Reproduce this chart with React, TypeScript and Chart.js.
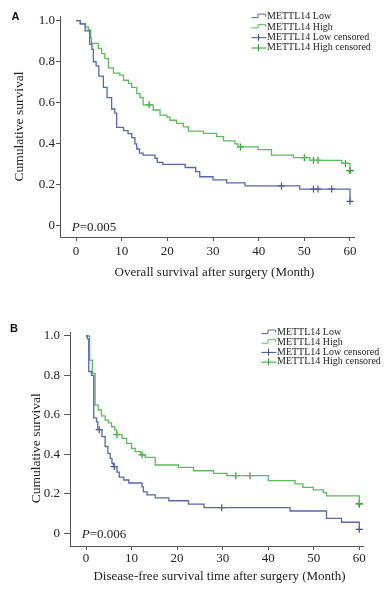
import React, { useEffect, useRef } from 'react';
import { Chart, registerables } from 'chart.js';

Chart.register(...registerables);

// ---------- data ----------
const X_TICKS = [0, 10, 20, 30, 40, 50, 60];
const Y_TICKS = [0, 0.2, 0.4, 0.6, 0.8, 1.0];
const LEGEND_LABELS = ['METTL14 Low', 'METTL14 High', 'METTL14 Low censored', 'METTL14 High censored'];

// Panel A: overall survival
const OS_LOW_T = [0, 0.9, 2, 3, 3.5, 3.8, 4.4, 5, 6, 6.8, 7.8, 8.5, 8.9, 10.4, 11.4, 12.2, 12.9, 13.3, 13.9, 14.7, 17.3, 17.8, 19, 23.9, 26.2, 27.1, 30, 33, 37, 49, 60];
const OS_LOW_S = [1, 0.985, 0.95, 0.885, 0.86, 0.8, 0.78, 0.73, 0.675, 0.625, 0.57, 0.55, 0.48, 0.465, 0.45, 0.43, 0.4, 0.375, 0.355, 0.345, 0.33, 0.31, 0.3, 0.285, 0.265, 0.24, 0.225, 0.21, 0.195, 0.18, 0.12];
const OS_LOW_CENS_T = [45, 52, 53, 56, 60];
const OS_LOW_CENS_S = [0.195, 0.18, 0.18, 0.18, 0.12];

const OS_HIGH_T = [0, 1, 2.1, 2.7, 3.2, 3.4, 4.9, 5.6, 6.3, 7.1, 8.2, 9.6, 10.4, 11.5, 12.2, 13.3, 14, 14.7, 16.9, 18.4, 19.9, 20.6, 22, 23.5, 24.6, 27.9, 30.8, 32.3, 34.8, 35.5, 39.9, 42.8, 47.6, 51.2, 58.2, 60];
const OS_HIGH_S = [1, 0.985, 0.97, 0.955, 0.915, 0.89, 0.865, 0.84, 0.815, 0.77, 0.745, 0.735, 0.71, 0.695, 0.675, 0.645, 0.625, 0.59, 0.565, 0.54, 0.53, 0.515, 0.5, 0.483, 0.462, 0.451, 0.435, 0.415, 0.4, 0.385, 0.372, 0.345, 0.333, 0.32, 0.305, 0.27];
const OS_HIGH_CENS_T = [16, 36, 50, 52, 53, 59, 60, 60];
const OS_HIGH_CENS_S = [0.59, 0.385, 0.333, 0.32, 0.32, 0.305, 0.27, 0.27];

// Panel B: disease-free survival
const DFS_LOW_T = [0, 0.3, 0.6, 1.2, 1.7, 2.3, 2.6, 3.5, 4.2, 4.8, 5.3, 5.7, 6.0, 6.8, 7.3, 8.3, 9.4, 12.3, 12.6, 13.4, 15.2, 18.2, 22.5, 25.9, 44.8, 52.8, 56.1, 60];
const DFS_LOW_S = [1, 0.985, 0.82, 0.8, 0.585, 0.565, 0.525, 0.49, 0.44, 0.405, 0.38, 0.355, 0.338, 0.31, 0.285, 0.27, 0.255, 0.235, 0.21, 0.195, 0.18, 0.165, 0.148, 0.13, 0.113, 0.076, 0.056, 0.02];
const DFS_LOW_CENS_T = [2.9, 6.2, 29.8, 60];
const DFS_LOW_CENS_S = [0.525, 0.338, 0.13, 0.02];

const DFS_HIGH_T = [0, 0.8, 1.4, 2.0, 2.7, 3.4, 4.2, 4.9, 5.6, 6.3, 6.7, 7.9, 8.9, 10.0, 10.8, 12.0, 13.0, 15.2, 20.3, 23.6, 28.0, 30.9, 40.0, 45.9, 47.6, 49.9, 52.1, 52.8, 60];
const DFS_HIGH_S = [1, 0.878, 0.81, 0.65, 0.625, 0.595, 0.574, 0.56, 0.54, 0.524, 0.5, 0.481, 0.456, 0.43, 0.414, 0.397, 0.385, 0.346, 0.334, 0.317, 0.304, 0.292, 0.267, 0.25, 0.233, 0.22, 0.206, 0.19, 0.149];
const DFS_HIGH_CENS_T = [6.8, 12.3, 32.9, 36, 60, 60];
const DFS_HIGH_CENS_S = [0.5, 0.397, 0.292, 0.292, 0.149, 0.149];

// ---------- styles ----------
const BLUE = '#5866aa';
const BLUE_MARK = '#3f4d99';
const GREEN = '#5dbb5d';
const GREEN_MARK = '#2f9f2f';
const AXIS = '#555555';
const TEXT = '#222222';
const SERIF = "'Liberation Serif', 'Times New Roman', serif";
const SANS = "'Liberation Sans', Arial, sans-serif";

const pts = (t: number[], s: number[]) => t.map((x, i) => ({ x, y: s[i] }));

type PanelCfg = {
  letter: string;
  pValue: string;
  xTitle: string;
  yTitle: string;
  height: number;
  padTop: number;
  padRight: number;
  yWidth: number;
  xHeight: number;
  xMin: number;
  xMax: number;
  yMin: number;
  yMax: number;
  yTickLen: number;
  yTickPad: number;
  xTickPad: number;
  letterPos: [number, number];
  pPos: [number, number];
  xTitlePos: [number, number];
  yTitlePos: [number, number];
  legend: { x: number; y: number; dy: number };
  lowT: number[]; lowS: number[]; lowCT: number[]; lowCS: number[];
  highT: number[]; highS: number[]; highCT: number[]; highCS: number[];
};

const PANEL_A: PanelCfg = {
  letter: 'A', pValue: '=0.005',
  xTitle: 'Overall survival after surgery (Month)', yTitle: 'Cumulative survival',
  height: 295, padTop: 16, padRight: 38, yWidth: 60, xHeight: 58,
  xMin: -3.504, xMax: 60.876, yMin: -0.0536, yMax: 1.0229,
  yTickLen: 4, yTickPad: 1, xTickPad: 3,
  letterPos: [11.5, 16.7], pPos: [71.7, 227.7], xTitlePos: [214.5, 273], yTitlePos: [19, 126.5],
  legend: { x: 267, y: 16.8, dy: 10.3 },
  lowT: OS_LOW_T, lowS: OS_LOW_S, lowCT: OS_LOW_CENS_T, lowCS: OS_LOW_CENS_S,
  highT: OS_HIGH_T, highS: OS_HIGH_S, highCT: OS_HIGH_CENS_T, highCS: OS_HIGH_CENS_S,
};

const PANEL_B: PanelCfg = {
  letter: 'B', pValue: '=0.006',
  xTitle: 'Disease-free survival time after surgery (Month)', yTitle: 'Cumulative survival',
  height: 296, padTop: 37, padRight: 29, yWidth: 70, xHeight: 45,
  xMin: -3.513, xMax: 60.81, yMin: -0.0644, yMax: 1.0202,
  yTickLen: 6, yTickPad: 4, xTickPad: 1,
  letterPos: [10, 33.7], pPos: [81.7, 240], xTitlePos: [219.5, 281.7], yTitlePos: [36, 153.3],
  legend: { x: 277, y: 37.7, dy: 9.7 },
  lowT: DFS_LOW_T, lowS: DFS_LOW_S, lowCT: DFS_LOW_CENS_T, lowCS: DFS_LOW_CENS_S,
  highT: DFS_HIGH_T, highS: DFS_HIGH_S, highCT: DFS_HIGH_CENS_T, highCS: DFS_HIGH_CENS_S,
};

function makeExtrasPlugin(cfg: PanelCfg) {
  return {
    id: 'kmExtras',
    afterDraw(chart: any) {
      const ctx: CanvasRenderingContext2D = chart.ctx;
      ctx.save();
      // Panel letter
      ctx.fillStyle = '#111';
      ctx.font = `bold 11px ${SANS}`;
      ctx.textAlign = 'left';
      ctx.textBaseline = 'middle';
      ctx.fillText(cfg.letter, cfg.letterPos[0], cfg.letterPos[1]);

      // P value
      ctx.fillStyle = TEXT;
      ctx.font = `italic 13px ${SERIF}`;
      ctx.fillText('P', cfg.pPos[0], cfg.pPos[1]);
      const pw = ctx.measureText('P').width;
      ctx.font = `13px ${SERIF}`;
      ctx.fillText(cfg.pValue, cfg.pPos[0] + pw, cfg.pPos[1]);

      // Axis titles
      ctx.textAlign = 'center';
      ctx.fillText(cfg.xTitle, cfg.xTitlePos[0], cfg.xTitlePos[1]);
      ctx.save();
      ctx.translate(cfg.yTitlePos[0], cfg.yTitlePos[1]);
      ctx.rotate(-Math.PI / 2);
      ctx.font = `13.5px ${SERIF}`;
      ctx.fillText(cfg.yTitle, 0, 0);
      ctx.restore();

      // Legend
      const { x, y, dy } = cfg.legend;
      const colors = [BLUE, GREEN, BLUE_MARK, GREEN_MARK];
      ctx.font = `10px ${SERIF}`;
      ctx.textAlign = 'left';
      ctx.lineWidth = 1;
      LEGEND_LABELS.forEach((label, i) => {
        const cy = y + i * dy;
        ctx.strokeStyle = colors[i];
        ctx.beginPath();
        if (i < 2) {
          ctx.moveTo(x - 15.6, cy + 0.8);
          ctx.lineTo(x - 9, cy + 0.8);
          ctx.lineTo(x - 9, cy - 2.7);
          ctx.lineTo(x - 1.3, cy - 2.7);
          ctx.lineTo(x - 1.3, cy);
        } else {
          ctx.moveTo(x - 15.6, cy + 0.3);
          ctx.lineTo(x - 0.5, cy + 0.3);
          ctx.moveTo(x - 8.5, cy - 3.5);
          ctx.lineTo(x - 8.5, cy + 3.5);
        }
        ctx.stroke();
        ctx.fillStyle = TEXT;
        ctx.fillText(label, x, cy);
      });
      ctx.restore();
    },
  };
}

function KMPanel({ cfg }: { cfg: PanelCfg }) {
  const ref = useRef<HTMLCanvasElement | null>(null);
  useEffect(() => {
    if (!ref.current) return;
    const tickFont = { family: SERIF, size: 13 };
    const chart = new Chart(ref.current, {
      type: 'line',
      data: {
        datasets: [
          {
            label: LEGEND_LABELS[0], data: pts(cfg.lowT, cfg.lowS), borderColor: BLUE,
            borderWidth: 1.3, pointRadius: 0, stepped: 'before', fill: false,
          },
          {
            label: LEGEND_LABELS[1], data: pts(cfg.highT, cfg.highS), borderColor: GREEN,
            borderWidth: 1.3, pointRadius: 0, stepped: 'before', fill: false,
          },
          {
            label: LEGEND_LABELS[2], data: pts(cfg.lowCT, cfg.lowCS), showLine: false,
            pointStyle: 'cross', pointRadius: 3.5, pointBorderWidth: 1.2,
            borderColor: BLUE_MARK, backgroundColor: BLUE_MARK,
          },
          {
            label: LEGEND_LABELS[3], data: pts(cfg.highCT, cfg.highCS), showLine: false,
            pointStyle: 'cross', pointRadius: 3.5, pointBorderWidth: 1.2,
            borderColor: GREEN_MARK, backgroundColor: GREEN_MARK,
          },
        ] as any,
      },
      options: {
        animation: false,
        responsive: false,
        devicePixelRatio: 1,
        layout: { padding: { top: cfg.padTop, right: cfg.padRight, left: 0, bottom: 0 } },
        plugins: { legend: { display: false }, tooltip: { enabled: false } },
        scales: {
          x: {
            type: 'linear',
            min: cfg.xMin,
            max: cfg.xMax,
            afterBuildTicks: (axis: any) => { axis.ticks = X_TICKS.map((v) => ({ value: v })); },
            afterFit: (axis: any) => { axis.height = cfg.xHeight; },
            grid: { display: true, drawOnChartArea: false, drawTicks: true, tickLength: 4, color: AXIS },
            border: { display: true, color: AXIS, width: 1 },
            ticks: { font: tickFont, color: TEXT, padding: cfg.xTickPad, maxRotation: 0, autoSkip: false },
          },
          y: {
            type: 'linear',
            min: cfg.yMin,
            max: cfg.yMax,
            afterBuildTicks: (axis: any) => { axis.ticks = Y_TICKS.map((v) => ({ value: v })); },
            afterFit: (axis: any) => { axis.width = cfg.yWidth; },
            grid: { display: true, drawOnChartArea: false, drawTicks: true, tickLength: cfg.yTickLen, color: AXIS },
            border: { display: true, color: AXIS, width: 1 },
            ticks: {
              font: tickFont, color: TEXT, padding: cfg.yTickPad, autoSkip: false,
              callback: (v: any) => (Number(v) === 0 ? '0' : Number(v).toFixed(1)),
            },
          },
        },
      } as any,
      plugins: [makeExtrasPlugin(cfg)],
    });
    return () => chart.destroy();
  }, [cfg]);
  return (
    <canvas ref={ref} width={392} height={cfg.height} style={{ display: 'block', width: 392, height: cfg.height }} />
  );
}

export default function App() {
  return (
    <div style={{ position: 'absolute', left: 0, top: 0, width: 392, height: 591, background: '#fff' }}>
      <KMPanel cfg={PANEL_A} />
      <KMPanel cfg={PANEL_B} />
    </div>
  );
}
